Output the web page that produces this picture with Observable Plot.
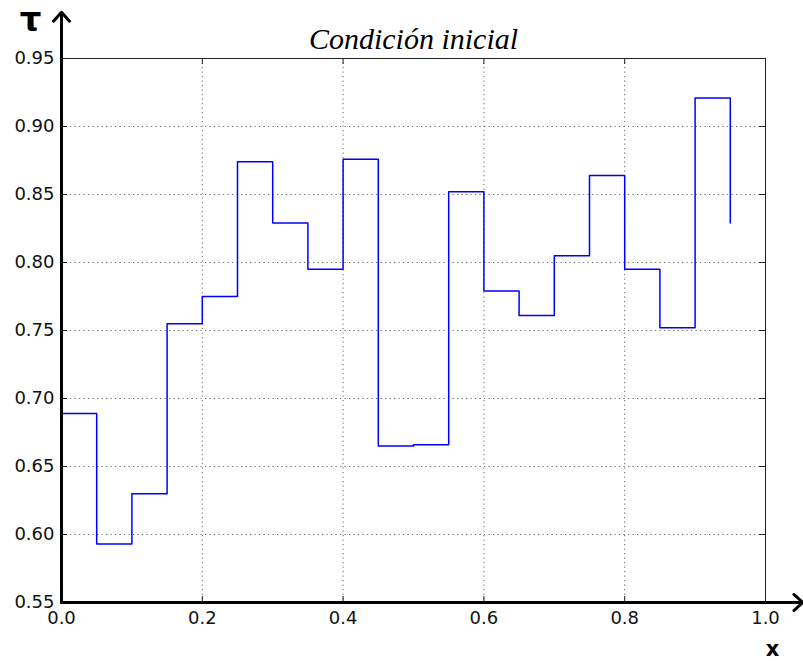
<!DOCTYPE html>
<html><head><meta charset="utf-8">
<script src="https://cdn.jsdelivr.net/npm/d3@7"></script>
<script src="https://cdn.jsdelivr.net/npm/@observablehq/plot@0.6"></script>
<style>body{margin:0;background:#fff}</style>
</head><body><div id="chart"></div>
<script>
// Data (step-post, value holds until next x)
const xValues = [0.00,0.05,0.10,0.15,0.20,0.25,0.30,0.35,0.40,0.45,0.50,0.55,0.60,0.65,0.70,0.75,0.80,0.85,0.90,0.95];
const tauValues = [0.689,0.593,0.630,0.755,0.775,0.874,0.829,0.795,0.876,0.665,0.666,0.852,0.779,0.761,0.805,0.864,0.795,0.752,0.921,0.829];
const xTicks = [0.0,0.2,0.4,0.6,0.8,1.0];
const yTicks = [0.55,0.60,0.65,0.70,0.75,0.80,0.85,0.90,0.95];
const xGrid = [0.2,0.4,0.6,0.8];
const yGrid = [0.60,0.65,0.70,0.75,0.80,0.85,0.90];
const xDomain = [0, 1];
const yDomain = [0.55, 0.95];
const xArrowEnd = 1.053;
const yArrowEnd = 0.984;
const titleText = "Condición inicial";
const yLabelText = "τ";
const xLabelText = "x";

const data = xValues.map((x, i) => ({x, tau: tauValues[i]}));

const W = 803, H = 661;
const mL = 61, mR = 38, mT = 58, mB = 59;
const frameW = W - mL - mR, frameH = H - mT - mB;

const chart = Plot.plot({
  width: W, height: H,
  marginLeft: mL, marginRight: mR, marginTop: mT, marginBottom: mB,
  style: {fontFamily: "DejaVu Sans", fontSize: "18px", color: "#111", background: "#fff", overflow: "visible"},
  x: {domain: xDomain, label: null},
  y: {domain: yDomain, label: null},
  marks: [
    Plot.ruleX(xGrid, {x: d => d, stroke: "#666", strokeWidth: 1, strokeDasharray: "1.2,3.3"}),
    Plot.ruleY(yGrid, {y: d => d, stroke: "#666", strokeWidth: 1, strokeDasharray: "1.2,3.3"}),
    Plot.frame({stroke: "#222", strokeWidth: 1}),
    // inward ticks on each side
    Plot.ruleY(yTicks, {y: d => d, insetLeft: frameW - 6, stroke: "#222"}),
    Plot.ruleY(yTicks, {y: d => d, insetRight: frameW - 6, stroke: "#222"}),
    Plot.ruleX(xTicks, {x: d => d, insetTop: frameH - 6, stroke: "#222"}),
    Plot.ruleX(xTicks, {x: d => d, insetBottom: frameH - 6, stroke: "#222"}),
    Plot.axisY(yTicks, {tickSize: 0, tickPadding: 7, tickFormat: d3.format(".2f"), fontSize: 18, fill: "#111"}),
    Plot.axisX(xTicks, {tickSize: 0, tickPadding: 9, tickFormat: d3.format(".1f"), fontSize: 18, fill: "#111"}),
    Plot.line(data, {x: "x", y: "tau", curve: "step-after", stroke: "#0000ff", strokeWidth: 1.5}),
    // thick axes with arrows
    Plot.arrow([0], {x1: xDomain[0], y1: yDomain[0], x2: xDomain[0], y2: yArrowEnd, stroke: "#000", strokeWidth: 3, headLength: 6, headAngle: 84}),
    Plot.arrow([0], {x1: xDomain[0], y1: yDomain[0], x2: xArrowEnd, y2: yDomain[0], stroke: "#000", strokeWidth: 3, headLength: 6, headAngle: 84}),
    Plot.text([titleText], {frameAnchor: "top", dy: -10, lineAnchor: "bottom", fontFamily: "Liberation Serif", fontStyle: "italic", fontSize: 30, fill: "#000"}),
    Plot.text([yLabelText], {frameAnchor: "top-left", dx: -31, dy: -28, lineAnchor: "bottom", textAnchor: "middle", fontWeight: "bold", fontSize: 34, fill: "#000"}),
    Plot.text([xLabelText], {frameAnchor: "bottom-right", dx: 7, dy: 53, lineAnchor: "bottom", textAnchor: "middle", fontWeight: "bold", fontSize: 21, fill: "#000"})
  ]
});
document.getElementById("chart").appendChild(chart);
</script>
</body></html>
